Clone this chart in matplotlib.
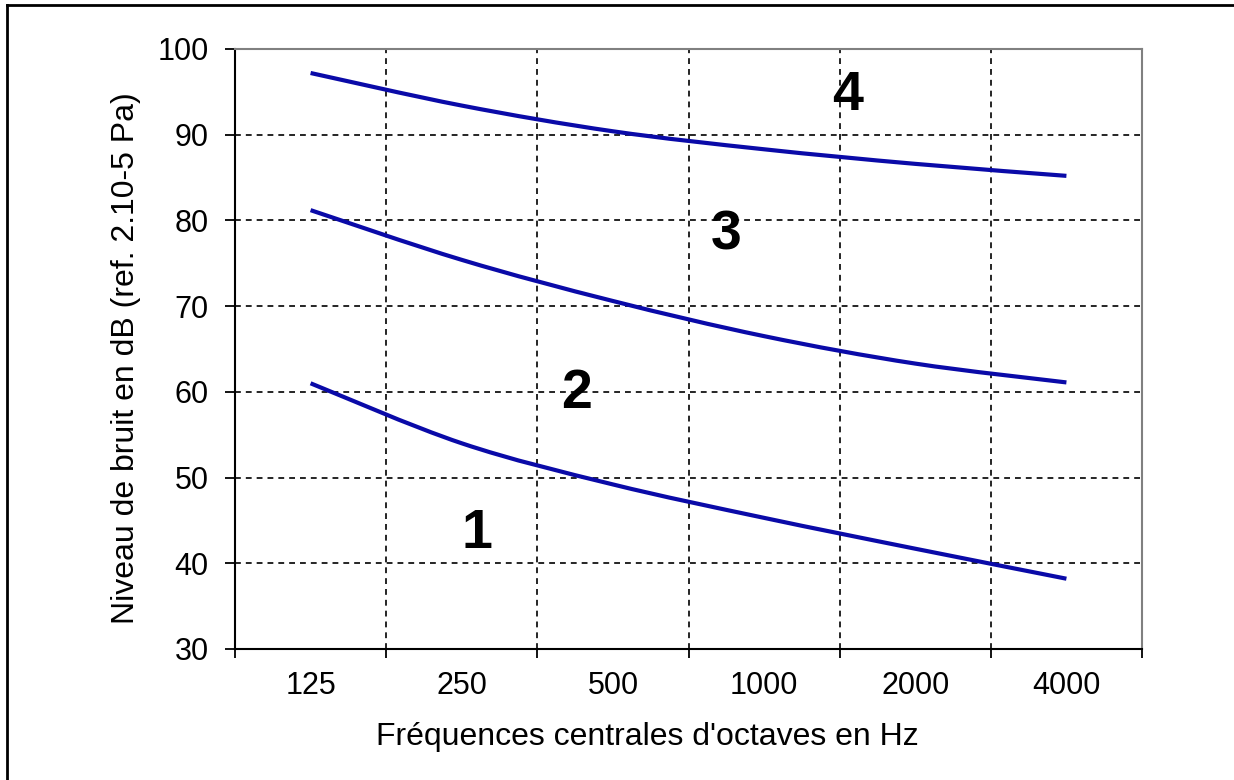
import matplotlib
matplotlib.use('agg')
import matplotlib.pyplot as plt
from matplotlib.path import Path
from matplotlib.patches import PathPatch
from matplotlib.lines import Line2D
import numpy as np

# octave band centre frequencies (Hz)
freqs = ['125', '250', '500', '1000', '2000', '4000']

# limit curves between zones, in dB
limite_12 = [61.0, 54.0, 49.2, 45.3, 41.7, 38.2]
limite_23 = [81.2, 75.4, 70.6, 66.5, 63.3, 61.1]
limite_34 = [97.2, 93.4, 90.4, 88.3, 86.6, 85.2]
zones = ['1', '2', '3', '4']

y_ticks = [30, 40, 50, 60, 70, 80, 90, 100]

plt.rcParams['font.family'] = ['Liberation Sans', 'DejaVu Sans']


def smooth_path(y):
    # bezier path through the points, same kind of smoothing as a spreadsheet
    pts = np.column_stack([np.arange(len(y)), y]).astype(float)
    n = len(pts)
    verts = [pts[0]]
    codes = [Path.MOVETO]
    for i in range(n - 1):
        p0 = pts[max(i - 1, 0)]
        p1 = pts[i]
        p2 = pts[i + 1]
        p3 = pts[min(i + 2, n - 1)]
        verts += [p1 + (p2 - p0) / 6, p2 - (p3 - p1) / 6, p2]
        codes += [Path.CURVE4] * 3
    return Path(verts, codes)


fig = plt.figure(figsize=(12.34, 7.8), dpi=100)
ax = fig.add_axes([235 / 1234, 1 - 649 / 780, 907 / 1234, 600 / 780])

for serie in [limite_12, limite_23, limite_34]:
    ax.add_patch(PathPatch(smooth_path(serie), fill=False,
                           edgecolor='#0a0aa8', lw=3, zorder=3))

ax.set_xlim(-0.5, len(freqs) - 0.5)
ax.set_ylim(30, 100)

# ticks on the category boundaries, labels in the middle
ax.set_xticks(np.arange(len(freqs) + 1) - 0.5)
ax.set_xticklabels([])
ax.set_xticks(np.arange(len(freqs)), minor=True)
ax.set_xticklabels(freqs, minor=True)
ax.tick_params(axis='x', which='major', direction='out', length=6.5, width=1.3, color='black')
ax.tick_params(axis='x', which='minor', length=0, pad=16, labelsize=22)
ax.set_yticks(y_ticks)
ax.tick_params(axis='y', direction='out', length=7, width=1.3, pad=12, labelsize=22)

ax.set_axisbelow(True)
ax.grid(True, which='major', color='black', lw=1.2, dashes=[3.5, 3])

for s in ['left', 'bottom']:
    ax.spines[s].set_color('black')
    ax.spines[s].set_linewidth(1.5)
for s in ['top', 'right']:
    ax.spines[s].set_color('#808080')
    ax.spines[s].set_linewidth(1.5)

ax.set_xlabel("Fréquences centrales d'octaves en Hz", fontsize=23)
ax.xaxis.set_label_coords(0.455, -0.147)
ax.xaxis.label.set_va('center')
ax.set_ylabel('Niveau de bruit en dB (ref. 2.10-5 Pa)', fontsize=23)
ax.yaxis.set_label_coords(-0.12, 0.484)
ax.yaxis.label.set_va('center')

# zone numbers
zone_pos = [(1.10, 43.4), (1.76, 59.8), (2.75, 78.2), (3.55, 94.5)]
for z, (xz, yz) in zip(zones, zone_pos):
    ax.text(xz, yz, z, fontsize=40, fontweight='bold', ha='center', va='center')

# frame around the picture (left and top only)
fig.add_artist(Line2D([7 / 1234, 7 / 1234], [0, 1 - 5 / 780],
                      transform=fig.transFigure, color='black', lw=2))
fig.add_artist(Line2D([7 / 1234, 1], [1 - 5 / 780, 1 - 5 / 780],
                      transform=fig.transFigure, color='black', lw=2))

fig.savefig('out.png', dpi=100)
